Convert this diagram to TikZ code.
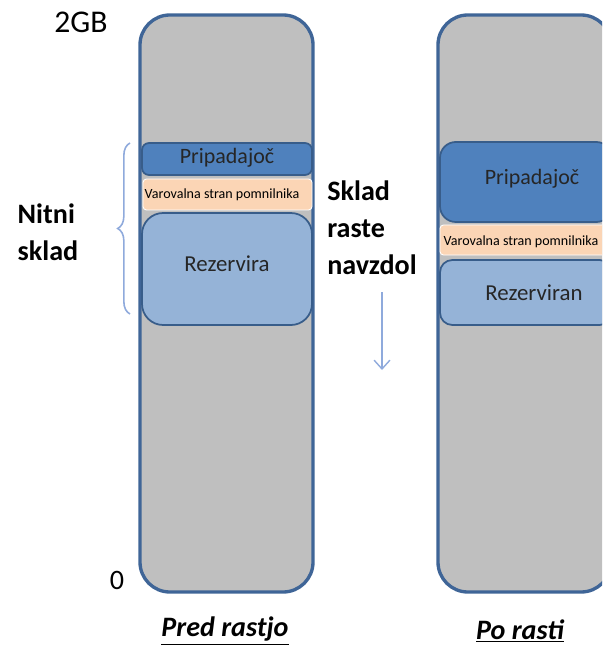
\documentclass[tikz,border=0pt]{standalone}
\usepackage{fontspec}
\setmainfont{Carlito}
\usetikzlibrary{arrows.meta}
\usetikzlibrary{decorations.pathreplacing}

\definecolor{colgray}{HTML}{BFBFBF}
\definecolor{colline}{HTML}{3F6597}
\definecolor{ownblue}{HTML}{4F81BD}
\definecolor{ownline}{HTML}{385D8A}
\definecolor{guardpeach}{HTML}{FBD5B5}
\definecolor{resblue}{HTML}{95B3D7}
\definecolor{hintblue}{HTML}{8FAADC}

\tikzset{
  column/.style={fill=colgray,draw=colline,line width=1.9pt,rounded corners=17pt},
  ownbox/.style={fill=ownblue,draw=ownline,line width=1pt},
  guardbox/.style={fill=guardpeach,draw=white,line width=0.5pt,rounded corners=2pt},
  resbox/.style={fill=resblue,draw=ownline,line width=1pt},
  boxtext/.style={font=\fontsize{12.5pt}{15pt}\selectfont,text=black!85},
  tinytext/.style={font=\fontsize{8pt}{9pt}\selectfont,inner sep=0pt},
  bigtext/.style={font=\bfseries\fontsize{16pt}{21pt}\selectfont,align=left},
  axistext/.style={font=\fontsize{18pt}{22pt}\selectfont},
  titletext/.style={font=\bfseries\itshape\fontsize{16pt}{19pt}\selectfont}
}

\begin{document}
\begin{tikzpicture}[x=0.02cm,y=-0.02cm]
\useasboundingbox (0,0) rectangle (602,648);

% pred rastjo
\draw[column] (140,15) rectangle (313,592);
\draw[ownbox,rounded corners=4pt] (142,143) rectangle (312,175);
\draw[guardbox] (143,179) rectangle (312,210);
\draw[resbox,rounded corners=12pt] (142,213) rectangle (312,325);
\node[boxtext] (ownL) at (227,158) {Pripadajoč};
\node[tinytext] (guardL) at (222,195) {Varovalna stran pomnilnika};
\node[boxtext,font=\fontsize{13pt}{15pt}\selectfont] (resL) at (227,264) {Rezervira};

% po rasti
\begin{scope}
\clip (0,0) rectangle (602,648);
\draw[column] (438,15) rectangle (611,592);
\draw[ownbox,rounded corners=9pt] (440,142) rectangle (612,222);
\draw[guardbox] (440,225) rectangle (612,255);
\draw[resbox,rounded corners=7pt] (440,260) rectangle (612,325);
\end{scope}
\node[boxtext] (ownR) at (532,179) {Pripadajoč};
\node[tinytext] (guardR) at (521,242) {Varovalna stran pomnilnika};
\node[boxtext,font=\fontsize{13pt}{15pt}\selectfont] (resR) at (534,293) {Rezerviran};

% oznake
\node[axistext] (top) at (81,22) {2GB};
\node[axistext,font=\fontsize{16pt}{18pt}\selectfont] (bottom) at (117,580) {0};
\node[bigtext] (thread) at (48,232) {Nitni\\sklad};
\node[bigtext] (grow) at (372,228) {Sklad\\raste\\navzdol};
\draw[hintblue,line width=0.9pt,decorate,decoration={brace,amplitude=7pt}]
  (130,314) -- (130,143);
\coordinate (arrowtop) at (382,292);
\coordinate (arrowend) at (382,370);
\draw[hintblue,line width=0.8pt,-{Straight Barb[length=5pt,width=9pt]}] (arrowtop) -- (arrowend);

\node[titletext] (before) at (225,631) {\underline{Pred rastjo}};
\node[titletext] (after) at (520,631) {\underline{Po rasti}};
\end{tikzpicture}
\end{document}
